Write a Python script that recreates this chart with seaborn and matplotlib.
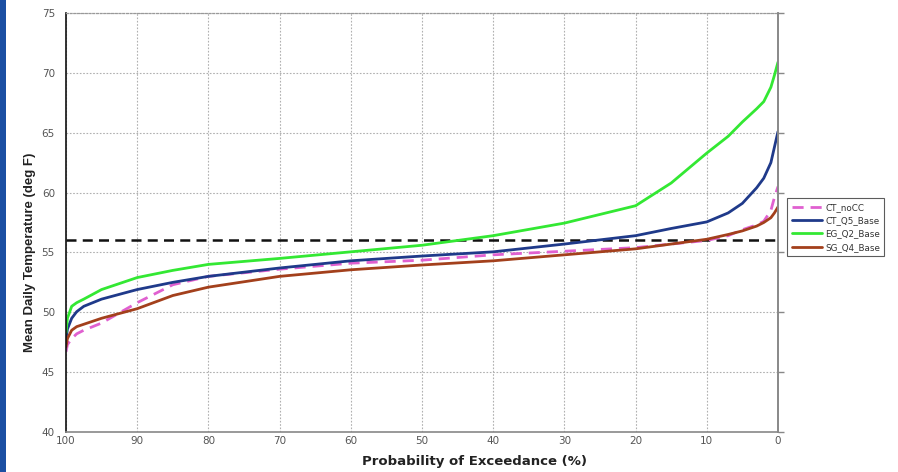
import numpy as np
import pandas as pd
import matplotlib
matplotlib.use("Agg")
import matplotlib.pyplot as plt
from matplotlib.patches import Rectangle
import seaborn as sns

# Exceedance probability (%) shared by all series
exceedance = [100, 99.8, 99.2, 98.5, 97.5, 95, 90, 85, 80, 70, 60, 50, 40,
              30, 20, 15, 10, 7, 5, 3, 2, 1, 0.5, 0]

ct_nocc = [46.7, 47.3, 47.8, 48.2, 48.5, 49.1, 50.8, 52.3, 53.0, 53.6, 54.1, 54.35,
           54.8, 55.1, 55.4, 55.7, 56.0, 56.4, 56.9, 57.3, 57.6, 58.5, 59.6, 60.5]
ct_q5_base = [47.7, 48.6, 49.5, 50.05, 50.5, 51.1, 51.9, 52.5, 53.0, 53.7, 54.3, 54.7,
              55.05, 55.7, 56.4, 57.0, 57.55, 58.3, 59.1, 60.4, 61.2, 62.5, 63.8, 65.1]
eg_q2_base = [48.3, 49.5, 50.5, 50.8, 51.1, 51.9, 52.9, 53.5, 54.0, 54.5, 55.05, 55.6,
              56.4, 57.45, 58.9, 60.8, 63.3, 64.7, 65.9, 67.0, 67.6, 68.8, 69.8, 70.9]
sg_q4_base = [47.1, 47.8, 48.5, 48.8, 49.0, 49.5, 50.3, 51.4, 52.1, 53.0, 53.55, 53.95,
              54.3, 54.8, 55.3, 55.7, 56.1, 56.5, 56.8, 57.2, 57.5, 57.9, 58.3, 58.8]

series_names = ["CT_noCC", "CT_Q5_Base", "EG_Q2_Base", "SG_Q4_Base"]
series_values = [ct_nocc, ct_q5_base, eg_q2_base, sg_q4_base]
series_colors = ["#E060D0", "#1F3A8A", "#33E833", "#A3401C"]
series_dashes = [(4, 2.5), "", "", ""]

threshold = 56.0

y_ticks = [40, 45, 50, 55, 60, 65, 70, 75]
x_ticks = [100, 90, 80, 70, 60, 50, 40, 30, 20, 10, 0]

sns.set_theme(style="white")
plt.rcParams["font.family"] = ["DejaVu Sans"]

fig = plt.figure(figsize=(8.98, 4.72), dpi=100)
ax = fig.add_axes([66 / 898, 1 - 432 / 472, (778 - 66) / 898, (432 - 13) / 472])

for name, vals, col, dash in zip(series_names, series_values, series_colors, series_dashes):
    df = pd.DataFrame({"p": exceedance, "t": vals})
    ls = "--" if dash else "-"
    sns.lineplot(data=df, x="p", y="t", ax=ax, color=col, lw=2.0,
                 linestyle=ls, label=name, sort=False, estimator=None)
    if dash:
        ax.lines[-1].set_dashes(dash)

ax.axhline(threshold, color="#111111", lw=1.8, linestyle=(0, (4, 2.5)), zorder=1)

ax.set_xlim(100, 0)
ax.set_ylim(40, 75)
ax.set_xticks(x_ticks)
ax.set_yticks(y_ticks)
ax.set_xticklabels([str(v) for v in x_ticks], fontsize=7.5, color="#555555")
ax.set_yticklabels([str(v) for v in y_ticks], fontsize=7.5, color="#555555")
ax.tick_params(axis="x", length=0, pad=3)
ax.tick_params(axis="y", length=0, pad=8)

ax.grid(True, color="#b0b0b0", linestyle=(0, (1.5, 1.5)), lw=0.8)
ax.set_axisbelow(True)

for side in ["left", "bottom", "right", "top"]:
    ax.spines[side].set_visible(True)
ax.spines["left"].set_color("#111111")
ax.spines["left"].set_linewidth(1.2)
ax.spines["bottom"].set_color("#888888")
ax.spines["bottom"].set_linewidth(1.2)
ax.spines["right"].set_color("#888888")
ax.spines["right"].set_linewidth(1.2)
ax.spines["top"].set_color("#999999")
ax.spines["top"].set_linestyle((0, (1.5, 1.5)))
ax.spines["top"].set_linewidth(0.9)

# small outward ticks on the right-hand frame
ax2 = ax.twinx()
ax2.set_ylim(ax.get_ylim())
ax2.set_yticks(y_ticks)
ax2.set_yticklabels([])
ax2.tick_params(axis="y", length=4, width=1, color="#888888", direction="out")
for side in ["left", "bottom", "top"]:
    ax2.spines[side].set_visible(False)
ax2.spines["right"].set_color("#888888")
ax2.spines["right"].set_linewidth(1.2)
ax2.grid(False)

ax.set_xlabel("Probability of Exceedance (%)", fontsize=9.5, fontweight="bold",
              color="#222222")
ax.xaxis.set_label_coords((475 - 66) / 712, -(462 - 432) / 419)
ax.xaxis.label.set_va("center")
ax.set_ylabel("Mean Daily Temperature (deg F)", fontsize=9.5, fontweight="bold",
              family=["Liberation Sans", "DejaVu Sans"], color="#222222")
ax.yaxis.set_label_coords((30 - 66) / 712, (432 - 252) / 419)
ax.yaxis.label.set_va("center")

handles, labels = ax.get_legend_handles_labels()
ax.legend_.remove()
leg = fig.legend(handles, labels, loc="upper left",
                 bbox_to_anchor=(783 / 898, 1 - 194 / 472), fontsize=6.3,
                 frameon=True, fancybox=False, edgecolor="#333333",
                 handlelength=3.4, labelspacing=0.5, borderpad=0.5,
                 handletextpad=0.4)
leg.get_frame().set_linewidth(0.8)
for t in leg.get_texts():
    t.set_color("#333333")

# blue band along the left edge
fig.patches.append(Rectangle((0, 0), 6 / 898, 1, transform=fig.transFigure,
                             facecolor="#1B4FA3", edgecolor="none", zorder=10))

fig.savefig("out.png", dpi=100)
